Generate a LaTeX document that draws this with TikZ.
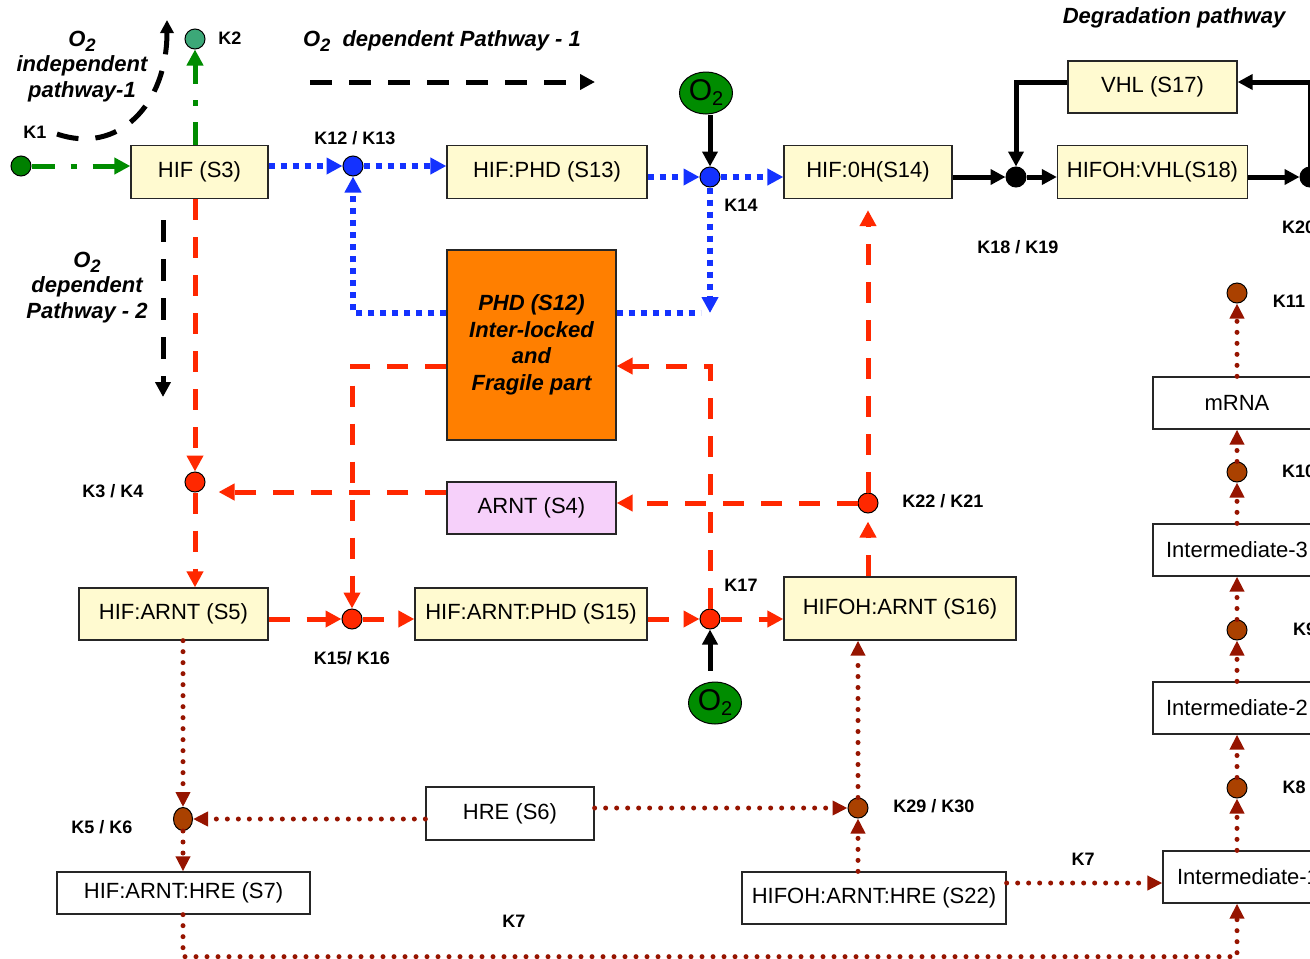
\documentclass[tikz,border=0pt]{standalone}
\usepackage{fontspec}
\setmainfont{Liberation Sans}
\usetikzlibrary{arrows.meta,shapes.geometric}
\definecolor{boxy}{RGB}{255,250,208}
\definecolor{arntpink}{RGB}{246,208,250}
\definecolor{phdorange}{RGB}{255,127,0}
\definecolor{redl}{RGB}{255,40,0}
\definecolor{bluel}{RGB}{20,50,255}
\definecolor{brownl}{RGB}{150,20,0}
\definecolor{browndot}{RGB}{170,65,0}
\definecolor{greenl}{RGB}{0,140,0}
\definecolor{kagreen}{RGB}{0,128,0}
\definecolor{kbgreen}{RGB}{60,168,120}
\definecolor{otwo}{RGB}{0,140,0}
\newcommand{\osub}[1]{O\raisebox{-5pt}{\fontsize{#1}{#1}\selectfont 2}}
\begin{document}
\begin{tikzpicture}[x=1pt,y=-1pt,
  box/.style={draw=black!85, line width=1.3pt, inner sep=0pt, minimum height=53pt,
    font=\fontsize{22}{26}\selectfont},
  ybox/.style={box, fill=boxy},
  wbox/.style={box, fill=white},
  kdot/.style={circle, draw=black, line width=1pt, minimum size=20pt, inner sep=0pt},
  klab/.style={font=\bfseries\fontsize{18}{21}\selectfont, inner sep=0pt},
  ttl/.style={font=\bfseries\itshape\fontsize{22}{26}\selectfont, inner sep=0pt, align=center},
  oxy/.style={ellipse, draw=black, line width=1pt, fill=otwo, minimum width=53pt,
    minimum height=42pt, inner sep=0pt, font=\fontsize{30}{32}\selectfont},
  redln/.style={draw=redl, line width=5pt, dash pattern=on 21pt off 17pt,
    -{Triangle[length=16pt,width=16pt]}},
  blueln/.style={draw=bluel, line width=5.5pt, dash pattern=on 6pt off 6pt,
    -{Triangle[length=16pt,width=16pt]}},
  brnln/.style={draw=brownl, line width=5pt, line cap=round, dash pattern=on 0pt off 11pt,
    -{Triangle[length=15pt,width=14pt]}},
  grnln/.style={draw=greenl, line width=5pt, dash pattern=on 23pt off 16pt on 6pt off 16pt,
    -{Triangle[length=16pt,width=16pt]}},
  blkln/.style={draw=black, line width=5pt, -{Triangle[length=15pt,width=15pt]}},
  blkdash/.style={draw=black, line width=5pt, dash pattern=on 22pt off 17pt,
    -{Triangle[length=15pt,width=15pt]}}
]
\useasboundingbox (0,0) rectangle (1310,959);
\clip (0,0) rectangle (1310,959);

% ---------- boxes ----------
\node[ybox, minimum width=137pt] (S3) at (199.5,172) {HIF (S3)};
\node[ybox, minimum width=200pt] (S13) at (547,172) {HIF:PHD (S13)};
\node[ybox, minimum width=168pt] (S14) at (868,172) {HIF:0H(S14)};
\node[ybox, minimum width=190pt] (S18) at (1152.5,172) {HIFOH:VHL(S18)};
\node[ybox, minimum width=169pt, minimum height=52pt] (S17) at (1152.5,87) {VHL (S17)};
\node[box, fill=phdorange, minimum width=169pt, minimum height=190pt,
  font=\bfseries\itshape\fontsize{22}{26.5}\selectfont, align=center] (S12) at (531.5,345)
  {PHD (S12)\\Inter-locked\\and\\Fragile part};
\node[box, fill=arntpink, minimum width=169pt, minimum height=52pt] (S4) at (531.5,508) {ARNT (S4)};
\node[ybox, minimum width=189pt, minimum height=52pt] (S5) at (173.5,614) {HIF:ARNT (S5)};
\node[ybox, minimum width=232pt, minimum height=52pt] (S15) at (531,614) {HIF:ARNT:PHD (S15)};
\node[ybox, minimum width=232pt, minimum height=63pt] (S16) at (900,608.5) {HIFOH:ARNT (S16)};
\node[wbox, minimum width=168pt] (S6) at (510,813.5) {HRE (S6)};
\node[wbox, minimum width=253pt, minimum height=42pt] (S7) at (183.5,893) {HIF:ARNT:HRE (S7)};
\node[wbox, minimum width=264pt, minimum height=52pt] (S22) at (874,898) {HIFOH:ARNT:HRE (S22)};
\node[wbox, minimum width=168pt, minimum height=52pt] (mRNA) at (1237,403) {mRNA};
\node[wbox, minimum width=168pt, minimum height=52pt] (I3) at (1237,550) {Intermediate-3};
\node[wbox, minimum width=168pt, minimum height=52pt] (I2) at (1237,708) {Intermediate-2};
\node[wbox, minimum width=170pt, minimum height=52pt] (I1) at (1248,877) {Intermediate-1};

% ---------- O2 ----------
\node[oxy] (O2a) at (706,93) {\osub{20}};
\node[oxy] (O2b) at (715,703) {\osub{20}};

% ---------- reaction dots ----------
\node[kdot, fill=kagreen] (K1) at (21,166) {};
\node[kdot, fill=kbgreen] (K2) at (195,39) {};
\node[kdot, fill=bluel] (K12) at (353,166) {};
\node[kdot, fill=bluel] (K14) at (710,177) {};
\node[kdot, fill=black] (K18) at (1016,177) {};
\node[kdot, fill=black] (K20) at (1310,177) {};
\node[kdot, fill=redl] (K3) at (195,482) {};
\node[kdot, fill=redl] (K22) at (868,503) {};
\node[kdot, fill=redl] (K15) at (352,619) {};
\node[kdot, fill=redl] (K17) at (710,619) {};
\node[kdot, ellipse, minimum width=19pt, minimum height=23pt, fill=browndot] (K5) at (183,819) {};
\node[kdot, fill=browndot] (K29) at (858,808) {};
\node[kdot, fill=browndot] (K11) at (1237,293) {};
\node[kdot, fill=browndot] (K10) at (1237,472) {};
\node[kdot, fill=browndot] (K9) at (1237,630) {};
\node[kdot, fill=browndot] (K8) at (1237,788) {};

% ---------- labels ----------
\node[klab] (LK1) at (35,132) {K1};
\node[klab] (LK2) at (230,38) {K2};
\node[klab] (LK12) at (355,138) {K12 / K13};
\node[klab] (LK14) at (741,205) {K14};
\node[klab] (LK18) at (1018,247) {K18 / K19};
\node[klab, anchor=west] (LK20) at (1282,227) {K20};
\node[klab] (LK11) at (1289,301) {K11};
\node[klab, anchor=west] (LK10) at (1282,471) {K10};
\node[klab, anchor=west] (LK9) at (1293,629) {K9};
\node[klab] (LK8) at (1294,787) {K8};
\node[klab] (LK7a) at (1083,859) {K7};
\node[klab] (LK7b) at (514,921) {K7};
\node[klab] (LK29) at (934,806) {K29 / K30};
\node[klab] (LK5) at (102,827) {K5 / K6};
\node[klab] (LK3) at (113,491) {K3 / K4};
\node[klab] (LK22) at (943,501) {K22 / K21};
\node[klab] (LK17) at (741,585) {K17};
\node[klab] (LK15) at (352,658) {K15/ K16};

% ---------- titles ----------
\node[ttl, anchor=west] (T1) at (303,41) {\osub{18}\ \ dependent Pathway - 1};
\node[ttl] (T0) at (82,67) {\osub{18}\\[-1pt]independent\\pathway-1};
\node[ttl] (T2) at (87,288) {\osub{18}\\[-1pt]dependent\\Pathway - 2};
\node[ttl] (T3) at (1174,18) {Degradation pathway};

% ---------- pathway arrows (annotation) ----------
\coordinate (pa1) at (310,82);
\coordinate (pa2) at (595,82);
\coordinate (pb1) at (163,220);
\coordinate (pb2) at (163,397);
\coordinate (pc1) at (57,134);
\coordinate (pc2) at (167,20);
\draw[blkdash] (pa1) -- (pa2);
\draw[blkdash] (pb1) -- (pb2);
\draw[blkdash, -{Triangle[length=13pt,width=13pt]}] (pc1) .. controls (118,155) and (167,105) .. (pc2);

% ---------- waypoints ----------
\coordinate (bl) at ([yshift=32pt]S12.west);
\coordinate (br) at ([yshift=32pt]S12.east);
\coordinate (pL) at ([yshift=-21pt]S12.west);
\coordinate (pR) at ([yshift=-21pt]S12.east);
\coordinate (aL) at ([yshift=16pt]S4.west);
\coordinate (s22r) at ([yshift=15pt]S22.east);

% ---------- green ----------
\draw[grnln] (K1) -- (S3.west |- K1);
\draw[grnln] (S3.north -| K2) -- (K2);

% ---------- blue ----------
\draw[blueln] (S3.east |- K12) -- (K12);
\draw[blueln] (K12) -- (S13.west |- K12);
\draw[blueln] (bl) -| (K12);
\draw[blueln] (S13.east |- K14) -- (K14);
\draw[blueln] (K14) -- (S14.west |- K14);
\draw[blueln] (K14) -- (K14 |- br);
\draw[blueln, -] (br) -- ++(84,0);

% ---------- black ----------
\draw[blkln] (O2a.south -| K14) -- (K14);
\draw[blkln] (S14.east |- K18) -- (K18);
\draw[blkln] (K18) -- (S18.west |- K18);
\draw[blkln] ([yshift=5pt]S17.west) -| (K18);
\draw[blkln] (S18.east |- K20) -- (K20);
\draw[blkln] (K20) |- ([yshift=5pt]S17.east);
\draw[blkln, shorten <=11pt] (O2b.north -| K17) -- (K17);

% ---------- red ----------
\draw[redln] (S3.south -| K3) -- (K3);
\draw[redln] (aL) -- ([xshift=13pt]aL -| K3.east);
\draw[redln] (K3) -- (S5.north -| K3);
\draw[redln] (S5.east |- K15) -- (K15);
\draw[redln] (K15) -- (S15.west |- K15);
\draw[redln] (pL) -| (K15);
\draw[redln] (S15.east |- K17) -- (K17);
\draw[redln] (K17) -- (S16.west |- K17);
\draw[redln] (K17) |- (pR);
\draw[redln, shorten >=8pt] (S16.north -| K22) -- (K22);
\draw[redln] (K22) -- (S4.east |- K22);
\draw[redln, shorten >=11pt] (K22) -- (S14.south -| K22);

% ---------- brown ----------
\draw[brnln] (S5.south -| K5) -- (K5);
\draw[brnln] (S6.west |- K5) -- (K5);
\draw[brnln] (K5) -- (S7.north -| K5);
\draw[brnln] (S7.south -| K5) -- ++(0,42) -| (I1.south -| K8);
\draw[brnln] (S6.east |- K29) -- (K29);
\draw[brnln] (S22.north -| K29) -- (K29);
\draw[brnln] (K29) -- (S16.south -| K29);
\draw[brnln] (s22r) -- (s22r -| I1.west);
\draw[brnln] (I1.north -| K8) -- (K8);
\draw[brnln] (K8) -- (I2.south);
\draw[brnln] (I2.north) -- (K9);
\draw[brnln] (K9) -- (I3.south);
\draw[brnln] (I3.north) -- (K10);
\draw[brnln] (K10) -- (mRNA.south);
\draw[brnln] (mRNA.north) -- (K11);
\end{tikzpicture}
\end{document}
